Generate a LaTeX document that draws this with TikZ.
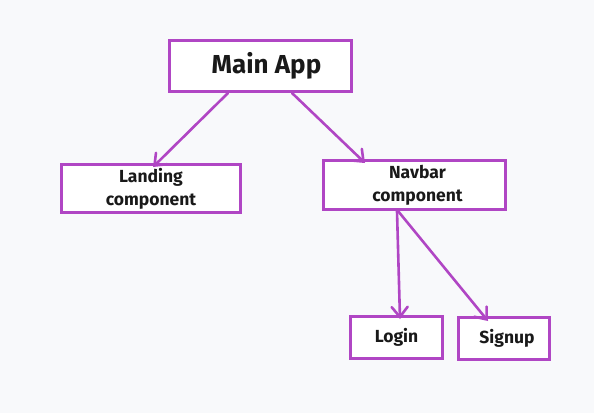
\documentclass[tikz,border=0pt]{standalone}
\usepackage{fontspec}
\setmainfont{Fira Sans}
\usetikzlibrary{arrows.meta}
\definecolor{bgc}{RGB}{248,249,251}
\definecolor{purp}{RGB}{176,70,196}
\begin{document}
\begin{tikzpicture}[x=1pt,y=-1pt,
  box/.style={draw=purp, line width=3pt, fill=white, inner sep=0pt, align=center,
    font=\fontsize{17.5}{23}\selectfont\bfseries, text=black!90},
  arr/.style={draw=purp, line width=2.6pt, line cap=round,
    -{Straight Barb[length=10pt,width=16pt,line width=2.6pt,line cap=round]}}]
\fill[bgc] (0,0) rectangle (594,413);
\useasboundingbox (0,0) rectangle (594,413);
\node[box, minimum width=182pt, minimum height=51pt, font=\fontsize{26}{30}\selectfont\bfseries] (main) at (260.5,66) {\hspace{12pt}Main App};
\node[box, minimum width=179pt, minimum height=48pt] (landing) at (151,188.5) {Landing\\component\hspace{-8pt}};
\node[box, minimum width=182pt, minimum height=49pt] (navbar) at (414.5,185) {\hspace{6pt}Navbar\\\hspace{6pt}component};
\node[box, minimum width=92pt, minimum height=42pt] (login) at (396.5,337.5) {Login};
\node[box, minimum width=91pt, minimum height=42pt] (signup) at (504,338.5) {\hspace{6pt}Signup};
\draw[arr] ([xshift=60pt]main.south west) -- ([xshift=93pt,yshift=-4pt]landing.north west);
\draw[arr] ([xshift=124pt]main.south west) -- ([xshift=43pt,yshift=-4pt]navbar.north west);
\draw[arr] ([xshift=75pt]navbar.south west) -- ([xshift=51pt,yshift=-4pt]login.north west);
\draw[arr] ([xshift=76pt]navbar.south west) -- ([xshift=31pt,yshift=-5pt]signup.north west);
\end{tikzpicture}
\end{document}
